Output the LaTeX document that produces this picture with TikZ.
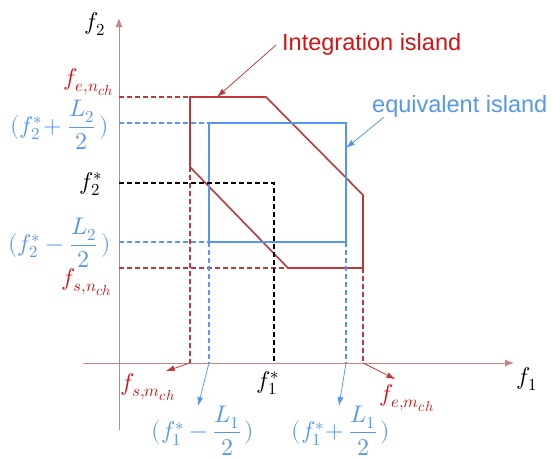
\documentclass[tikz,border=0pt]{standalone}
\usepackage{amsmath}
\usepackage{fontspec}
\usepackage{unicode-math}
\setmathfont{Latin Modern Math}
\setsansfont{Liberation Sans}
\renewcommand\defaultscriptscriptratio{.6}
\usepackage{tikz}
\usetikzlibrary{arrows.meta,positioning,calc}
\definecolor{islandred}{RGB}{190,55,58}
\definecolor{labelred}{RGB}{210,20,20}
\definecolor{eqblue}{RGB}{85,150,240}
\definecolor{axisred}{RGB}{200,130,130}

\begin{document}
\begin{tikzpicture}[
x=1pt, y=-1pt,
axis/.style={-{Latex[length=9pt,width=7pt]}, draw=axisred, line width=1pt},
island/.style={draw=islandred, line width=1.6pt},
eqbox/.style={draw=eqblue, line width=2.6pt},
reddash/.style={draw=islandred, dash pattern=on 5pt off 3pt, line width=1.3pt},
bluedash/.style={draw=eqblue, dash pattern=on 5pt off 3pt, line width=1.1pt},
blackdash/.style={draw=black, dash pattern=on 5pt off 3pt, line width=1.1pt},
redarrow/.style={-{Latex[length=9pt,width=6pt]}, draw=islandred, fill=islandred, line width=0.7pt},
bluearrow/.style={-{Latex[length=9pt,width=6pt]}, draw=eqblue, fill=eqblue, line width=0.7pt},
mlabel/.style={inner sep=0pt, font=\fontsize{24}{28}\selectfont},
tlabel/.style={inner sep=0pt, font=\sffamily\fontsize{23.5}{28}\selectfont}
]
\useasboundingbox (0,0) rectangle (553,459);

% axes
\coordinate (origin) at (119,363);
\draw[axis] (119,430) -- (119,18);
\draw[axis] (83,363) -- (514,363);
\node[mlabel] (ftwo) at (95,24) {$f_2$};
\node[mlabel] (fone) at (527,379) {$f_1$};

% integration island
\draw[island] (190,97) -- (266,97) -- (363,195) -- (363,268) -- (288,268) -- (190,167) -- cycle;
\draw[reddash] (119,97) -- (190,97);
\draw[reddash] (119,268) -- (288,268);
\draw[reddash] (190,167) -- (190,363);
\draw[reddash] (363,268) -- (363,363);
\coordinate (sm) at (190,363);
\coordinate (em) at (363,363);

% equivalent island
\draw[eqbox] (209,123) rectangle (346,242);
\draw[bluedash] (119,123) -- (209,123);
\draw[bluedash] (119,242) -- (209,242);
\draw[bluedash] (209,242) -- (209,363);
\draw[bluedash] (346,242) -- (346,363);
\coordinate (lo) at (209,363);
\coordinate (hi) at (346,363);

% centre point
\draw[blackdash] (119,183) -- (274,183) -- (274,363);

% labels on the f2 axis
\node[mlabel, text=labelred] (en) at (89,82) {$f_{e,n_{ch}}$};
\node[mlabel, text=eqblue, anchor=east] (upper) at (109,125) {$(f_2^*\!+\dfrac{L_2}{2}\,)$};
\node[mlabel, anchor=east] (ftwostar) at (103,184) {$f_2^*$};
\node[mlabel, text=eqblue, anchor=east] (lower) at (111,243) {$(f_2^*-\dfrac{L_2}{2}\,)$};
\node[mlabel, text=labelred] (sn) at (87,282) {$f_{s,n_{ch}}$};

% labels on the f1 axis
\node[mlabel, text=labelred] (smlab) at (148,387) {$f_{s,m_{ch}}$};
\node[mlabel] (fonestar) at (268,383) {$f_1^*$};
\node[mlabel, text=eqblue, anchor=north] (left) at (203,406) {$(f_1^*-\dfrac{L_1}{2}\,)$};
\node[mlabel, text=eqblue, anchor=north] (right) at (341,406) {$(f_1^*\!+\dfrac{L_1}{2}\,)$};
\node[mlabel, text=labelred] (emlab) at (407,398) {$f_{e,m_{ch}}$};
\draw[redarrow] (sm) -- ($(smlab.north east)+(-10,-2)$);
\draw[redarrow] (em) -- ($(emlab.north west)+(16,-5)$);
\draw[bluearrow] (lo) -- ($(left.north)+(-5,0)$);
\draw[bluearrow] (hi) -- ($(right.north)+(-2,0)$);

% callouts
\node[tlabel, text=labelred, anchor=west] (intlab) at (282,44) {Integration island};
\node[tlabel, text=eqblue, anchor=west] (eqlab) at (372,106) {equivalent island};
\draw[redarrow] (intlab.west) ++(-6,1) -- (217,97);
\draw[bluearrow] (eqlab.south west) ++(12,0) -- (346,148);
\end{tikzpicture}
\end{document}
